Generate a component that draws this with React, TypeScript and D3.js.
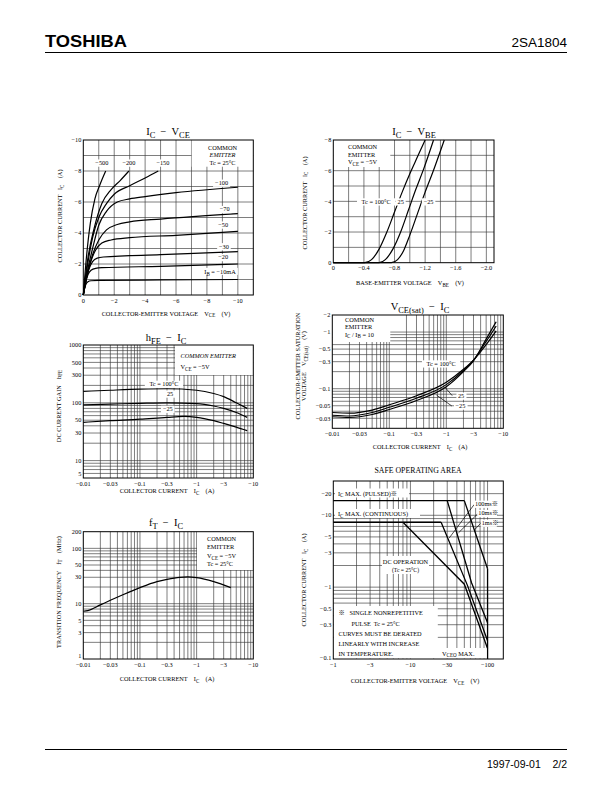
import React from "react";
import * as d3 from "d3";

const SERIF = "'Liberation Serif','Times New Roman','Noto Sans CJK JP',serif";
const SANS = "'Liberation Sans',Arial,Helvetica,sans-serif";
const MINUS = "\u2212";
const GRID = "#383838";
const FS = 6.3;
const TFS = 10.5;

type Pt = [number, number];

// ---------- IC - VCE (magnitudes: V, A) ----------
const icVceXTicks = [0, 2, 4, 6, 8, 10];
const icVceYTicks = [0, 2, 4, 6, 8, 10];
const ibM500: Pt[] = [[0, 0], [0.2, 2.4], [0.45, 4.6], [0.75, 6.2], [1.07, 7.1], [1.45, 8]];
const ibM200: Pt[] = [[0, 0], [0.3, 2.4], [0.7, 4.3], [1.2, 5.9], [1.8, 6.8], [2.4, 7.4], [2.95, 8]];
const ibM150: Pt[] = [[0, 0], [0.3, 2.1], [0.6, 3.7], [1, 5.0], [1.5, 5.9], [2, 6.5], [3, 7.05], [4, 7.55], [4.85, 8]];
const ibM100: Pt[] = [[0, 0], [0.3, 1.7], [0.6, 3.0], [1, 4.5], [1.5, 5.4], [2.2, 6.0], [3, 6.2], [4, 6.35], [6, 6.6], [10, 6.95]];
const ibM70: Pt[] = [[0, 0], [0.3, 1.5], [0.6, 2.6], [1, 3.55], [1.5, 4.2], [2.2, 4.55], [3, 4.72], [5, 4.9], [10, 5.25]];
const ibM50: Pt[] = [[0, 0], [0.25, 1.3], [0.5, 2.2], [0.8, 2.9], [1.2, 3.35], [1.8, 3.55], [3, 3.7], [6, 3.85], [10, 4.1]];
const ibM30: Pt[] = [[0, 0], [0.2, 1.1], [0.4, 1.75], [0.6, 2.15], [0.9, 2.38], [1.3, 2.45], [5, 2.6], [10, 2.8]];
const ibM20: Pt[] = [[0, 0], [0.15, 0.8], [0.3, 1.3], [0.5, 1.6], [0.8, 1.72], [1.2, 1.76], [5, 1.85], [10, 2.0]];
const ibM10: Pt[] = [[0, 0], [0.1, 0.5], [0.2, 0.75], [0.3, 0.85], [0.5, 0.92], [1, 0.94], [5, 0.97], [10, 1.0]];

// ---------- IC - VBE ----------
const vbeXTicks = [0, 0.4, 0.8, 1.2, 1.6, 2.0];
const vbeYTicks = [0, 2, 4, 6, 8];
const vbeT100: Pt[] = [[0, 0], [0.41, 0], [0.5, 0.2], [0.6, 0.9], [0.7, 2.0], [0.8, 3.3], [0.9, 4.6], [1.0, 5.8], [1.1, 6.9], [1.2, 8]];
const vbeT25: Pt[] = [[0, 0], [0.6, 0], [0.68, 0.2], [0.78, 0.9], [0.88, 2.0], [0.98, 3.4], [1.08, 4.8], [1.18, 6.1], [1.31, 8]];
const vbeTm25: Pt[] = [[0, 0], [0.76, 0], [0.84, 0.2], [0.92, 0.8], [1.0, 1.8], [1.1, 3.2], [1.2, 4.6], [1.3, 5.9], [1.45, 8]];

// ---------- hFE - IC ----------
const icLogTicks = [0.01, 0.03, 0.1, 0.3, 1, 3, 10];
const hfeYTicks = [5, 10, 30, 50, 100, 300, 500, 1000];
const hfeT100: Pt[] = [[0.01, 158], [0.03, 165], [0.1, 172], [0.3, 175], [1, 165], [2, 145], [3, 128], [5, 100], [7.8, 80]];
const hfeT25: Pt[] = [[0.01, 92], [0.03, 95], [0.1, 98], [0.3, 100], [1, 97], [2, 88], [3, 80], [5, 68], [7.8, 56]];
const hfeTm25: Pt[] = [[0.01, 46], [0.03, 49], [0.1, 52], [0.3, 56], [0.6, 58], [1, 56], [2, 49], [3, 44], [5, 38], [7.8, 33]];

// ---------- VCE(sat) - IC ----------
const vsatYTicks = [0.03, 0.05, 0.1, 0.3, 0.5, 1, 2];
const vsatT100: Pt[] = [[0.01, 0.038], [0.02, 0.037], [0.05, 0.042], [0.1, 0.052], [0.3, 0.075], [1, 0.13], [2, 0.22], [3, 0.32], [5, 0.6], [7.5, 1.05]];
const vsatT25: Pt[] = [[0.01, 0.034], [0.02, 0.033], [0.05, 0.038], [0.1, 0.047], [0.3, 0.068], [1, 0.118], [2, 0.21], [3, 0.32], [5, 0.68], [7.5, 1.28]];
const vsatTm25: Pt[] = [[0.01, 0.032], [0.02, 0.031], [0.05, 0.035], [0.1, 0.043], [0.3, 0.062], [1, 0.108], [2, 0.2], [3, 0.31], [5, 0.75], [7.5, 1.52]];

// ---------- fT - IC ----------
const ftYTicks = [1, 3, 5, 10, 30, 50, 100, 200];
const ftCurve: Pt[] = [[0.01, 7.3], [0.012, 7.5], [0.02, 9.5], [0.03, 11.5], [0.05, 14.5], [0.1, 19.5], [0.2, 25], [0.3, 27.5], [0.5, 30], [0.7, 30.5], [1, 29.5], [2, 25], [4, 19.5]];

// ---------- Safe operating area ----------
const soaXTicks = [1, 3, 10, 30, 100];
const soaYTicks = [0.1, 0.3, 0.5, 1, 3, 5, 10, 20];
const soaPulsed: Pt[] = [[1, 16], [50, 16]];
const soaCont: Pt[] = [[1, 8], [25, 8]];
const soa1ms: Pt[] = [[50, 16], [100, 1.8]];
const soa10ms: Pt[] = [[30, 16], [62, 1.15], [100, 0.32]];
const soa100ms: Pt[] = [[25, 8], [55, 1.05], [100, 0.18]];
const soaDC: Pt[] = [[8, 8], [50, 1.1], [100, 0.14]];
const soaVceo: Pt[] = [[100, 1.8], [100, 0.1]];

// ---------- scales ----------
const x1 = d3.scaleLinear().domain([0, 11]).range([83.3, 253.3]);
const y1 = d3.scaleLinear().domain([0, 10]).range([295, 140]);
const x2 = d3.scaleLinear().domain([0, 2.1]).range([333.3, 494]);
const y2 = d3.scaleLinear().domain([0, 8]).range([262.7, 140]);
const x3 = d3.scaleLog().domain([0.01, 10]).range([83.3, 253.3]);
const y3 = d3.scaleLog().domain([5, 1000]).range([478, 345]);
const x4 = d3.scaleLog().domain([0.01, 10]).range([332.3, 503.3]);
const y4 = d3.scaleLog().domain([0.02, 2]).range([428.3, 315]);
const x5 = d3.scaleLog().domain([0.01, 10]).range([83.3, 253.3]);
const y5 = d3.scaleLog().domain([1, 200]).range([659, 531.7]);
const x6 = d3.scaleLog().domain([1, 160]).range([333.3, 503.3]);
const y6 = d3.scaleLog().domain([0.1, 30]).range([659, 481]);

function logGrid(lo: number, hi: number): number[] {
  const out: number[] = [];
  for (let e = Math.floor(Math.log10(lo)); e <= Math.ceil(Math.log10(hi)); e++) {
    for (let m = 1; m < 10; m++) {
      const v = +(m * Math.pow(10, e)).toPrecision(6);
      if (v > lo * 1.0001 && v < hi * 0.9999) out.push(v);
    }
  }
  return out;
}
function linGrid(lo: number, hi: number, step: number): number[] {
  const out: number[] = [];
  for (let v = lo + step; v < hi - 1e-9; v += step) out.push(+v.toFixed(6));
  return out;
}

const neg = (v: number) => (v === 0 ? "0" : MINUS + String(v));
const neg1 = (v: number) => (v === 0 ? "0" : MINUS + v.toFixed(1));
const plain = (v: number) => String(v);

function path(xs: any, ys: any, pts: Pt[], smooth = true) {
  const g = d3
    .line<Pt>()
    .x((d) => xs(d[0]))
    .y((d) => ys(d[1]))
    .curve(smooth ? d3.curveMonotoneX : d3.curveLinear);
  return g(pts) || "";
}

type Part = [string, number];
function Rich(props: {
  x: number; y: number; parts: Part[]; fs?: number; anchor?: string; rotate?: boolean; italic?: boolean;
}) {
  const { x, y, parts, fs = FS, anchor = "start", rotate = false, italic = false } = props;
  let sub = false;
  const kids = parts.map((p, i) => {
    const isSub = p[1] === 1;
    let dy = 0;
    if (isSub && !sub) dy = fs * 0.3;
    if (!isSub && sub) dy = -fs * 0.3;
    sub = isSub;
    return (
      <tspan key={i} dy={dy} fontSize={isSub ? fs * 0.8 : fs}>
        {p[0]}
      </tspan>
    );
  });
  return (
    <text
      x={x}
      y={y}
      fontSize={fs}
      textAnchor={anchor as any}
      fontStyle={italic ? "italic" : undefined}
      transform={rotate ? `rotate(-90 ${x} ${y})` : undefined}
      style={{ whiteSpace: "pre" }}
    >
      {kids}
    </text>
  );
}

function BgLabel(props: { x: number; y: number; text: string; fs?: number; anchor?: string; pad?: number }) {
  const { x, y, text, fs = FS, anchor = "middle", pad = 1.5 } = props;
  const w = text.length * fs * 0.56 + pad * 2;
  const left = anchor === "middle" ? x - w / 2 : anchor === "end" ? x - w + pad : x - pad;
  return (
    <g>
      <rect x={left} y={y - fs * 0.85} width={w} height={fs * 1.15} fill="white" />
      <text x={x} y={y} fontSize={fs} textAnchor={anchor as any} style={{ whiteSpace: "pre" }}>
        {text}
      </text>
    </g>
  );
}

function Panel(props: {
  xs: any; ys: any; xGrid: number[]; yGrid: number[]; xTicks: number[]; yTicks: number[];
  xFmt: (v: number) => string; yFmt: (v: number) => string; lowShift?: number; children?: React.ReactNode;
}) {
  const { xs, ys, xGrid, yGrid, xTicks, yTicks, xFmt, yFmt, lowShift = 0, children } = props;
  const [l, r] = xs.range();
  const [b, t] = ys.range();
  const lo = ys.domain()[0];
  return (
    <g>
      <rect x={l} y={t} width={r - l} height={b - t} fill="white" />
      {xGrid.map((v, i) => (
        <line key={"gx" + i} x1={xs(v)} x2={xs(v)} y1={t} y2={b} stroke={GRID} strokeWidth={0.65} />
      ))}
      {yGrid.map((v, i) => (
        <line key={"gy" + i} x1={l} x2={r} y1={ys(v)} y2={ys(v)} stroke={GRID} strokeWidth={0.65} />
      ))}
      {children}
      <rect x={l} y={t} width={r - l} height={b - t} fill="none" stroke="#000" strokeWidth={1} />
      {xTicks.map((v, i) => (
        <text key={"tx" + i} x={xs(v)} y={b + 7.5} fontSize={FS} textAnchor="middle">
          {xFmt(v)}
        </text>
      ))}
      {yTicks.map((v, i) => (
        <text key={"ty" + i} x={l - 2} y={ys(v) + 2.2 - (v === lo ? lowShift : 0)} fontSize={FS} textAnchor="end">
          {yFmt(v)}
        </text>
      ))}
    </g>
  );
}

const CURVE = { fill: "none", stroke: "#000", strokeWidth: 1.2 } as const;

export default function App() {
  return (
    <svg
      width={612}
      height={792}
      viewBox="0 0 612 792"
      style={{ position: "absolute", left: 0, top: 0, background: "white" }}
      fontFamily={SERIF}
    >
      <rect x={0} y={0} width={612} height={792} fill="white" />
      {/* header */}
      <text x={45} y={47} fontFamily={SANS} fontWeight="bold" fontSize={16.5} textLength={82} lengthAdjust="spacingAndGlyphs">
        TOSHIBA
      </text>
      <text x={567} y={47} fontFamily={SANS} fontSize={13.5} textAnchor="end">
        2SA1804
      </text>
      <line x1={45} x2={567} y1={52.5} y2={52.5} stroke="#000" strokeWidth={1.2} />

      {/* ===== Chart 1: IC - VCE ===== */}
      <Rich x={168} y={135} fs={TFS} anchor="middle" parts={[["I", 0], ["C", 1], ["  " + MINUS + "  V", 0], ["CE", 1]]} />
      <Panel xs={x1} ys={y1} xGrid={linGrid(0, 11, 1)} yGrid={linGrid(0, 10, 1)} xTicks={icVceXTicks} yTicks={icVceYTicks} xFmt={neg} yFmt={neg}>
        <rect x={191.7} y={140} width={61.6} height={26.7} fill="white" />
        <text x={222.5} y={149.5} fontSize={FS} textAnchor="middle">COMMON</text>
        <text x={222.5} y={157} fontSize={FS} textAnchor="middle" fontStyle="italic">EMITTER</text>
        <text x={222.5} y={165} fontSize={FS} textAnchor="middle">{"Tc = 25°C"}</text>
        {[ibM500, ibM200, ibM150, ibM100, ibM70, ibM50, ibM30, ibM20, ibM10].map((c, i) => (
          <path key={i} d={path(x1, y1, c)} {...CURVE} />
        ))}
        <BgLabel x={x1(1.2)} y={y1(8.4)} text={MINUS + "500"} />
        <BgLabel x={x1(2.95)} y={y1(8.4)} text={MINUS + "200"} />
        <BgLabel x={x1(5.15)} y={y1(8.4)} text={MINUS + "150"} />
        <BgLabel x={x1(8.95)} y={y1(7.1)} text={MINUS + "100"} />
        <BgLabel x={x1(9.15)} y={y1(5.4)} text={MINUS + "70"} />
        <BgLabel x={x1(9.05)} y={y1(4.4)} text={MINUS + "50"} />
        <BgLabel x={x1(9.1)} y={y1(3.0)} text={MINUS + "30"} />
        <BgLabel x={x1(9.05)} y={y1(2.3)} text={MINUS + "20"} />
        <rect x={x1(7.7)} y={y1(1.75)} width={x1(10) - x1(7.7)} height={7} fill="white" />
        <Rich x={x1(8.85)} y={y1(1.35)} anchor="middle" parts={[["I", 0], ["B", 1], [" = " + MINUS + "10mA", 0]]} />
      </Panel>
      <Rich x={61.7} y={216} rotate anchor="middle" parts={[["COLLECTOR CURRENT   I", 0], ["C", 1], ["    (A)", 0]]} />
      <Rich x={166} y={315.5} anchor="middle" parts={[["COLLECTOR-EMITTER VOLTAGE    V", 0], ["CE", 1], ["    (V)", 0]]} />

      {/* ===== Chart 2: IC - VBE ===== */}
      <Rich x={414} y={135} fs={TFS} anchor="middle" parts={[["I", 0], ["C", 1], ["  " + MINUS + "  V", 0], ["BE", 1]]} />
      <Panel xs={x2} ys={y2} xGrid={linGrid(0, 2.1, 0.2)} yGrid={linGrid(0, 8, 1)} xTicks={vbeXTicks} yTicks={vbeYTicks} xFmt={neg1} yFmt={neg}>
        <rect x={333.3} y={140} width={57} height={27} fill="white" />
        <text x={348} y={149} fontSize={FS}>COMMON</text>
        <text x={348} y={156.5} fontSize={FS}>EMITTER</text>
        <Rich x={348} y={164.3} parts={[["V", 0], ["CE", 1], [" = " + MINUS + "5V", 0]]} />
        {[vbeT100, vbeT25, vbeTm25].map((c, i) => (
          <path key={i} d={path(x2, y2, c)} {...CURVE} />
        ))}
        <BgLabel x={x2(0.56)} y={y2(3.85)} text={"Tc = 100°C"} />
        <BgLabel x={x2(0.88)} y={y2(3.85)} text={"25"} />
        <BgLabel x={x2(1.245)} y={y2(3.85)} text={MINUS + "25"} />
      </Panel>
      <Rich x={306.5} y={203} rotate anchor="middle" parts={[["COLLECTOR CURRENT   I", 0], ["C", 1], ["    (A)", 0]]} />
      <Rich x={410} y={285} anchor="middle" parts={[["BASE-EMITTER VOLTAGE    V", 0], ["BE", 1], ["    (V)", 0]]} />

      {/* ===== Chart 3: hFE - IC ===== */}
      <Rich x={166} y={341} fs={TFS} anchor="middle" parts={[["h", 0], ["FE", 1], ["  " + MINUS + "  I", 0], ["C", 1]]} />
      <Panel xs={x3} ys={y3} xGrid={logGrid(0.01, 10)} yGrid={logGrid(5, 1000)} xTicks={icLogTicks} yTicks={hfeYTicks} xFmt={neg} yFmt={plain} lowShift={4}>
        <rect x={175} y={345} width={78.3} height={30} fill="white" />
        <text x={180.5} y={358} fontSize={FS} fontStyle="italic">COMMON EMITTER</text>
        <Rich x={180.5} y={369} parts={[["V", 0], ["CE", 1], [" = " + MINUS + "5V", 0]]} />
        {[hfeT100, hfeT25, hfeTm25].map((c, i) => (
          <path key={i} d={path(x3, y3, c)} {...CURVE} />
        ))}
        <BgLabel x={x3(0.265)} y={y3(195)} text={"Tc = 100°C"} />
        <BgLabel x={x3(0.34)} y={y3(132)} text={"25"} />
        <BgLabel x={x3(0.31)} y={y3(72)} text={MINUS + "25"} />
      </Panel>
      <Rich x={60.5} y={406} rotate anchor="middle" parts={[["DC CURRENT GAIN    h", 0], ["FE", 1]]} />
      <Rich x={167} y={493} anchor="middle" parts={[["COLLECTOR CURRENT    I", 0], ["C", 1], ["    (A)", 0]]} />

      {/* ===== Chart 4: VCE(sat) - IC ===== */}
      <Rich x={420} y={310} fs={TFS} anchor="middle" parts={[["V", 0], ["CE(sat)", 1], ["  " + MINUS + "  I", 0], ["C", 1]]} />
      <Panel xs={x4} ys={y4} xGrid={logGrid(0.01, 10)} yGrid={logGrid(0.02, 2)} xTicks={icLogTicks} yTicks={vsatYTicks} xFmt={neg} yFmt={neg}>
        <rect x={332.3} y={315} width={58} height={27} fill="white" />
        <text x={345} y={321.8} fontSize={FS}>COMMON</text>
        <text x={345} y={329.2} fontSize={FS}>EMITTER</text>
        <Rich x={345} y={336.6} parts={[["I", 0], ["C", 1], [" / I", 0], ["B", 1], [" = 10", 0]]} />
        {[vsatT100, vsatT25, vsatTm25].map((c, i) => (
          <path key={i} d={path(x4, y4, c)} {...CURVE} />
        ))}
        <BgLabel x={x4(0.81)} y={y4(0.255)} text={"Tc = 100°C"} />
        <line x1={x4(0.95)} y1={y4(0.106)} x2={x4(1.27)} y2={y4(0.0753)} stroke="#000" strokeWidth={0.7} />
        <line x1={x4(0.675)} y1={y4(0.077)} x2={x4(1.25)} y2={y4(0.0495)} stroke="#000" strokeWidth={0.7} />
        <BgLabel x={x4(1.6)} y={y4(0.069)} text={"25"} anchor="start" />
        <BgLabel x={x4(1.45)} y={y4(0.046)} text={MINUS + "25"} anchor="start" />
      </Panel>
      <Rich x={299.5} y={366} rotate anchor="middle" parts={[["COLLECTOR-EMITTER SATURATION", 0]]} />
      <Rich x={306} y={366} rotate anchor="middle" parts={[["VOLTAGE    V", 0], ["CE(sat)", 1], ["    (V)", 0]]} />
      <Rich x={420} y={449} anchor="middle" parts={[["COLLECTOR CURRENT    I", 0], ["C", 1], ["    (A)", 0]]} />

      {/* ===== Chart 5: fT - IC ===== */}
      <Rich x={166} y={526} fs={TFS} anchor="middle" parts={[["f", 0], ["T", 1], ["  " + MINUS + "  I", 0], ["C", 1]]} />
      <Panel xs={x5} ys={y5} xGrid={logGrid(0.01, 10)} yGrid={logGrid(1, 200)} xTicks={icLogTicks} yTicks={ftYTicks} xFmt={neg} yFmt={plain} lowShift={3.5}>
        <rect x={197} y={531.7} width={56.3} height={38.3} fill="white" />
        <text x={207} y={540.5} fontSize={FS}>COMMON</text>
        <text x={207} y={549} fontSize={FS}>EMITTER</text>
        <Rich x={207} y={557.8} parts={[["V", 0], ["CE", 1], [" = " + MINUS + "5V", 0]]} />
        <text x={207} y={566} fontSize={FS}>{"Tc = 25°C"}</text>
        <path d={path(x5, y5, ftCurve)} {...CURVE} />
      </Panel>
      <Rich x={60.5} y={592} rotate anchor="middle" parts={[["TRANSITION FREQUENCY    f", 0], ["T", 1], ["    (MHz)", 0]]} />
      <Rich x={167} y={681} anchor="middle" parts={[["COLLECTOR CURRENT    I", 0], ["C", 1], ["    (A)", 0]]} />

      {/* ===== Chart 6: SOA ===== */}
      <text x={418} y={473} fontSize={7.8} textAnchor="middle">SAFE OPERATING AREA</text>
      <Panel xs={x6} ys={y6} xGrid={logGrid(1, 160)} yGrid={logGrid(0.1, 30)} xTicks={soaXTicks} yTicks={soaYTicks} xFmt={neg} yFmt={neg} lowShift={1}>
        <rect x={335} y={488.5} width={74} height={9} fill="white" />
        <Rich x={338} y={495.5} parts={[["I", 0], ["C", 1], [" MAX. (PULSED)※", 0]]} />
        <rect x={335} y={509} width={85} height={9} fill="white" />
        <Rich x={338} y={516} parts={[["I", 0], ["C", 1], [" MAX. (CONTINUOUS)", 0]]} />
        <rect x={382} y={556} width={47} height={18} fill="white" />
        <text x={405.5} y={564} fontSize={FS} textAnchor="middle">DC OPERATION</text>
        <text x={405.5} y={572} fontSize={FS * 0.9} textAnchor="middle">{"(Tc = 25°C)"}</text>
        {[soaPulsed, soaCont, soa1ms, soa10ms, soa100ms, soaDC, soaVceo].map((c, i) => (
          <path key={i} d={path(x6, y6, c, false)} fill="none" stroke="#000" strokeWidth={1.3} />
        ))}
        <line x1={x6(67)} y1={y6(14.1)} x2={x6(31.8)} y2={y6(4.82)} stroke="#000" strokeWidth={0.7} />
        <line x1={x6(74)} y1={y6(10.4)} x2={x6(42)} y2={y6(5.7)} stroke="#000" strokeWidth={0.7} />
        <line x1={x6(82)} y1={y6(7.8)} x2={x6(68)} y2={y6(6.3)} stroke="#000" strokeWidth={0.7} />
        <BgLabel x={475} y={506} text={"100ms※"} anchor="start" pad={1} />
        <BgLabel x={478.3} y={515.3} text={"10ms※"} anchor="start" pad={1} />
        <BgLabel x={481.7} y={525} text={"1ms※"} anchor="start" pad={1} />
        <rect x={333.8} y={606} width={104} height={52.5} fill="white" />
        <text x={338.5} y={614.5} fontSize={FS} style={{ whiteSpace: "pre" }}>{"※   SINGLE NONREPETITIVE"}</text>
        <text x={351.5} y={625.5} fontSize={FS} style={{ whiteSpace: "pre" }}>{"PULSE  Tc = 25°C"}</text>
        <text x={338.5} y={635.5} fontSize={FS}>CURVES MUST BE DERATED</text>
        <text x={338.5} y={645.5} fontSize={FS}>LINEARLY WITH INCREASE</text>
        <text x={338.5} y={655.5} fontSize={FS}>IN TEMPERATURE.</text>
        <rect x={440} y={648} width={46.5} height={10.5} fill="white" />
        <Rich x={442} y={655.5} parts={[["V", 0], ["CEO", 1], [" MAX.", 0]]} />
      </Panel>
      <Rich x={306} y={580} rotate anchor="middle" parts={[["COLLECTOR CURRENT   I", 0], ["C", 1], ["    (A)", 0]]} />
      <Rich x={415} y={683} anchor="middle" parts={[["COLLECTOR-EMITTER VOLTAGE    V", 0], ["CE", 1], ["    (V)", 0]]} />

      {/* footer */}
      <line x1={45} x2={567} y1={749.5} y2={749.5} stroke="#000" strokeWidth={1} />
      <text x={567} y={768} fontFamily={SANS} fontSize={10.5} textAnchor="end" style={{ whiteSpace: "pre" }}>
        {"1997-09-01    2/2"}
      </text>
    </svg>
  );
}
